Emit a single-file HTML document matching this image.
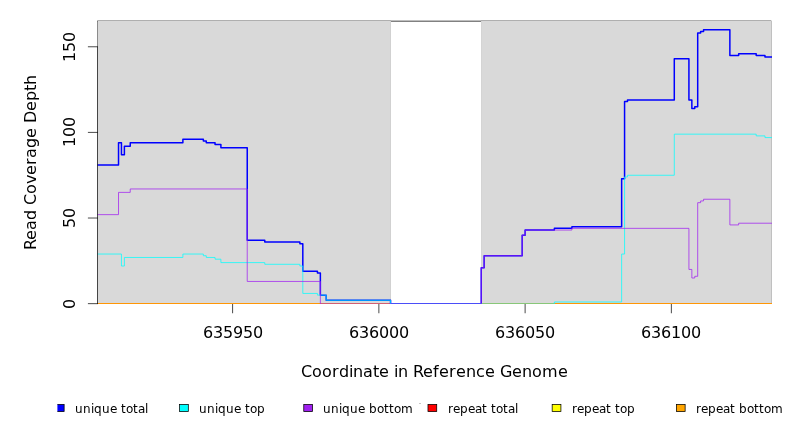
<!DOCTYPE html>
<html lang="en">
<head>
<meta charset="utf-8">
<title>Read Coverage Depth</title>
<style>
html,body{margin:0;padding:0;background:#fff;}
body{width:792px;height:432px;overflow:hidden;}
svg{display:block;}
text{font-family:"DejaVu Sans","Liberation Sans",sans-serif;fill:#000;font-kerning:none;}
.ax{font-size:16px;}
.lg{font-size:12px;}
</style>
</head>
<body>
<svg width="792" height="432" viewBox="0 0 792 432">
<rect x="0" y="0" width="792" height="432" fill="#fff"/>
<defs><clipPath id="pc"><rect x="97.50" y="20.00" width="674.50" height="284.10"/></clipPath><clipPath id="lc"><rect x="57.4" y="395" width="735" height="30"/></clipPath></defs>
<g id="frame">
<line x1="97.50" y1="21.17" x2="771.50" y2="21.17" stroke="#000" stroke-width="0.75"/>
</g>
<g id="regions">
<rect x="97.50" y="20" width="293.50" height="1.00" fill="#afafaf"/>
<rect x="481.00" y="20" width="290.00" height="1.00" fill="#afafaf"/>
<rect x="771" y="20" width="1" height="1" fill="#e2e2e2"/>
<rect x="771" y="21" width="1" height="283" fill="#c0c0c0"/>
<rect x="97.50" y="21" width="293.50" height="283.00" fill="#d9d9d9"/>
<rect x="481.00" y="21" width="290.00" height="283.00" fill="#d9d9d9"/>
<rect x="390" y="21" width="1" height="283" fill="#d1d1d1"/>
<rect x="481" y="21" width="1" height="283" fill="#d4d4d4"/>
</g>
<g id="series" clip-path="url(#pc)" fill="none" stroke-linejoin="round" stroke-linecap="round">
<rect x="97.20" y="303" width="674.80" height="1" fill="#ff9605" stroke="none"/>
<rect x="97.50" y="304" width="674.50" height="1" fill="#ff3030" fill-opacity="0.12" stroke="none"/>
<path d="M96.50,164.99H118.53V142.72H121.45V154.71H124.38V146.15H130.23V142.72H182.88V139.30H203.35V141.01H206.28V142.72H215.05V144.44H220.90V147.86H247.23V240.34H264.78V242.05H299.88V243.76H302.81V271.16H317.43V272.88H320.36V295.14H326.21V300.27H390.56V303.70H481.24V267.74H484.16V255.75H522.19V235.20H525.11V230.06H554.37V228.35H571.92V226.64H621.64V178.69H624.57V101.62H627.49V99.91H674.29V58.81H688.92V99.91H691.85V108.47H694.77V106.76H697.70V33.12H700.62V31.41H703.55V29.70H729.87V55.39H738.65V53.68H756.20V55.39H764.97V57.10H772.50" stroke="#0000ff" stroke-width="1.5"/>
<path d="M96.50,254.04H121.45V266.02H124.38V257.46H182.88V254.04H203.35V255.75H206.28V257.46H215.05V259.18H220.90V262.60H264.78V264.31H299.88V266.02H302.81V293.43H317.43V295.14H326.21V300.27H390.56V303.88H554.37V301.99H621.64V254.04H624.57V176.97H627.49V175.26H674.29V134.16H756.20V135.88H764.97V137.59H772.50" stroke="#00ffff" stroke-width="0.75"/>
<path d="M96.50,214.65H118.53V192.39H130.23V188.96H247.23V281.44H320.36V303.88H481.24V267.74H484.16V255.75H522.19V235.20H525.11V230.06H571.92V228.35H688.92V269.45H691.85V278.01H694.77V276.30H697.70V202.66H700.62V200.95H703.55V199.24H729.87V224.93H738.65V223.21H772.50" stroke="#a020f0" stroke-width="0.75"/>
</g>
<g id="axes" stroke="#000" stroke-opacity="0.95" stroke-width="0.75" fill="none" stroke-linecap="butt">
<line x1="97.50" y1="20.90" x2="97.50" y2="46.40" stroke="#000" stroke-opacity="0.55"/>
<line x1="97.50" y1="304.02" x2="97.50" y2="46.40"/>
<line x1="87.90" y1="303.65" x2="97.88" y2="303.65"/>
<line x1="87.90" y1="218.02" x2="97.88" y2="218.02"/>
<line x1="87.90" y1="132.40" x2="97.88" y2="132.40"/>
<line x1="87.90" y1="46.77" x2="97.88" y2="46.77"/>
<line x1="232.60" y1="304.00" x2="232.60" y2="313.25"/>
<line x1="378.86" y1="304.00" x2="378.86" y2="313.25"/>
<line x1="525.11" y1="304.00" x2="525.11" y2="313.25"/>
<line x1="671.37" y1="304.00" x2="671.37" y2="313.25"/>
</g>
<g id="ticklabels" class="ax">
<text x="203 213 223 233 243 253" y="338">635950</text>
<text x="349 359 369 379 389 399" y="338">636000</text>
<text x="495 505 515 525 535 545" y="338">636050</text>
<text x="641 651 661 671 681 691" y="338">636100</text>
<text transform="translate(75 309) rotate(-90)" x="0" y="0">0</text>
<text transform="translate(75 228) rotate(-90)" x="0 10" y="0">50</text>
<text transform="translate(75 147) rotate(-90)" x="0 10 20" y="0">100</text>
<text transform="translate(75 62) rotate(-90)" x="0 10 20" y="0">150</text>
</g>
<g id="titles" class="ax">
<text x="301 312 322 332 339 349 353 363 373 379 389 394 398 408 413 423 433 439 449 456 466 476 485 495 500 512 522 532 542 558" y="377">Coordinate in Reference Genome</text>
<text transform="translate(36 250) rotate(-90)" x="0 10 20 30 40 45 56 66 75 85 92 102 112 122 127 139 149 159 165" y="0">Read Coverage Depth</text>
</g>
<rect x="419" y="403" width="2" height="1" fill="#c6c6c6"/>
<g id="legend" clip-path="url(#lc)">
<rect x="55.38" y="404.4" width="8.75" height="7.2" fill="#0000ff" stroke="#000" stroke-width="0.75"/>
<text class="lg" x="75 83 91 94 102 110 117 121 126 133 138 145" y="413">unique total</text>
<rect x="179.57" y="404.4" width="8.75" height="7.2" fill="#00ffff" stroke="#000" stroke-width="0.75"/>
<text class="lg" x="199 207 215 218 226 234 241 245 250 257" y="413">unique top</text>
<rect x="303.77" y="404.4" width="8.75" height="7.2" fill="#a020f0" stroke="#000" stroke-width="0.75"/>
<text class="lg" x="323 331 339 342 350 358 365 369 377 384 389 394 401" y="413">unique bottom</text>
<rect x="427.98" y="404.4" width="8.75" height="7.2" fill="#ff0000" stroke="#000" stroke-width="0.75"/>
<text class="lg" x="448 453 460 468 475 482 487 491 496 503 508 515" y="413">repeat total</text>
<rect x="552.17" y="404.4" width="8.75" height="7.2" fill="#ffff00" stroke="#000" stroke-width="0.75"/>
<text class="lg" x="572 577 584 592 599 606 611 615 620 627" y="413">repeat top</text>
<rect x="676.38" y="404.4" width="8.75" height="7.2" fill="#ffa500" stroke="#000" stroke-width="0.75"/>
<text class="lg" x="696 701 708 716 723 730 735 739 747 754 759 764 771" y="413">repeat bottom</text>
</g>
</svg>
</body>
</html>
